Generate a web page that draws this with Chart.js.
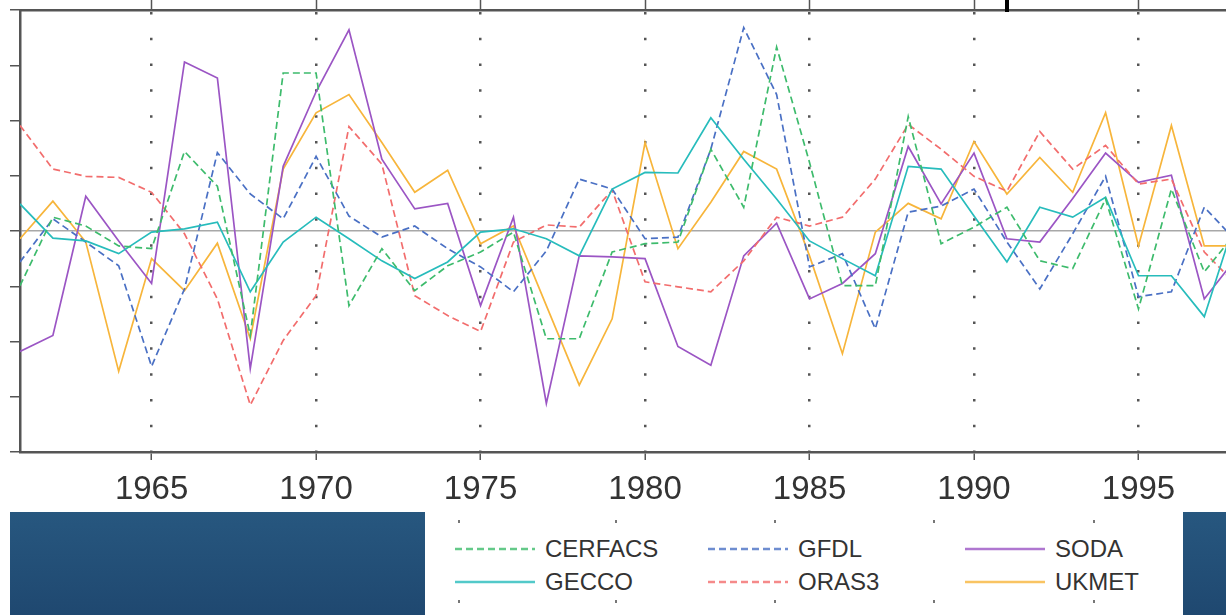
<!DOCTYPE html>
<html>
<head>
<meta charset="utf-8">
<script src="https://cdn.jsdelivr.net/npm/chart.js@4.4.0/dist/chart.umd.min.js"></script>
<style>
    html, body { margin: 0; padding: 0; background: #fff; overflow: hidden; }
    body { width: 1226px; height: 615px; position: relative; font-family: "Liberation Sans", Arial, sans-serif; }
    #wrap { position: absolute; left: 0; top: 0; width: 1226px; height: 512px; }
    .block { position: absolute; background: linear-gradient(#27577f, #1f4870); }
    .mark { position: absolute; left: 1005px; top: 0; width: 4px; height: 12px; background: #000; }
    .leg { position: absolute; height: 30px; display: flex; align-items: center; font-size: 24px; color: #333; }
    .leg svg { margin-right: 10px; }
    .dot { position: absolute; width: 2px; height: 3px; background: #777; }
</style>
</head>
<body>
<div id="wrap"><canvas id="myChart" width="1226" height="512"></canvas></div>
<div class="block" style="left:10px; top:512px; width:415px; height:103px;"></div>
<div class="block" style="left:1183px; top:512px; width:43px; height:103px;"></div>
<div class="mark"></div>
<div id="legend"></div>

<script>
const years = [1961, 1962, 1963, 1964, 1965, 1966, 1967, 1968, 1969, 1970,
    1971, 1972, 1973, 1974, 1975, 1976, 1977, 1978, 1979, 1980,
    1981, 1982, 1983, 1984, 1985, 1986, 1987, 1988, 1989, 1990,
    1991, 1992, 1993, 1994, 1995, 1996, 1997, 1998];

const xTicks = [1965, 1970, 1975, 1980, 1985, 1990, 1995];

const cerfacs = [-0.99, 0.25, 0.09, -0.27, -0.32, 1.44, 0.81, -1.89, 2.86, 2.86,
    -1.35, -0.32, -1.08, -0.63, -0.38, -0.02, -1.95, -1.95, -0.38, -0.23,
    -0.20, 1.48, 0.43, 3.33, 1.24, -0.99, -0.99, 2.07, -0.23, 0.07,
    0.43, -0.54, -0.68, 0.58, -1.41, 0.76, -0.74, 0.00];

const gecco = [0.49, -0.13, -0.18, -0.41, -0.02, 0.04, 0.16, -1.10, -0.20, 0.25,
    -0.14, -0.54, -0.86, -0.56, -0.02, 0.04, -0.14, -0.45, 0.76, 1.06,
    1.05, 2.05, 1.30, 0.58, -0.18, -0.50, -0.81, 1.17, 1.12, 0.27,
    -0.56, 0.43, 0.25, 0.61, -0.81, -0.81, -1.55, 0.31];

const gfdl = [-0.56, 0.22, -0.20, -0.63, -2.45, -1.05, 1.42, 0.67, 0.22, 1.35,
    0.27, -0.11, 0.09, -0.32, -0.65, -1.10, -0.36, 0.94, 0.76, -0.14,
    -0.11, 1.48, 3.68, 2.47, -0.65, -0.41, -1.77, 0.34, 0.45, 0.76,
    -0.20, -1.05, -0.05, 0.99, -1.19, -1.10, 0.43, -0.20];

const oras3 = [1.91, 1.12, 0.99, 0.97, 0.70, -0.05, -1.23, -3.15, -1.98, -1.17,
    1.89, 1.21, -1.17, -1.53, -1.82, -0.20, 0.11, 0.07, 0.74, -0.92,
    -1.01, -1.10, -0.54, 0.25, 0.09, 0.25, 0.94, 1.93, 1.48, 0.99,
    0.72, 1.80, 1.12, 1.55, 0.85, 0.94, -0.38, -0.99];

const soda = [-2.18, -1.89, 0.63, -0.18, -0.95, 3.06, 2.77, -2.49, 1.17, 2.52,
    3.64, 1.30, 0.40, 0.50, -1.35, 0.25, -3.12, -0.45, -0.47, -0.50,
    -2.09, -2.43, -0.45, 0.14, -1.23, -0.95, -0.41, 1.53, 0.49, 1.41,
    -0.14, -0.20, 0.59, 1.41, 0.88, 1.01, -1.23, -0.47];

const ukmet = [-0.14, 0.54, -0.20, -2.54, -0.50, -1.08, -0.22, -1.95, 1.12, 2.14,
    2.47, 1.60, 0.70, 1.10, -0.23, 0.09, -1.35, -2.79, -1.59, 1.60,
    -0.32, 0.52, 1.44, 1.12, -0.45, -2.22, -0.02, 0.50, 0.22, 1.62,
    0.67, 1.33, 0.70, 2.14, -0.27, 1.91, -0.27, -0.27];

// series look
const series = [
    { label: "CERFACS", values: cerfacs, color: "#3dbb6c", dash: [7, 4] },
    { label: "GECCO", values: gecco, color: "#27bcbc", dash: [] },
    { label: "GFDL", values: gfdl, color: "#4a70c4", dash: [7, 4] },
    { label: "ORAS3", values: oras3, color: "#f26d6d", dash: [7, 4] },
    { label: "SODA", values: soda, color: "#9b55c4", dash: [] },
    { label: "UKMET", values: ukmet, color: "#f7b53b", dash: [] },
];

const toPoints = vals => years.map((yr, i) => ({ x: yr, y: vals[i] }));
const setTicks = scale => { scale.ticks = xTicks.map(v => ({ value: v })); };

const ctx = document.getElementById('myChart').getContext('2d');
const myChart = new Chart(ctx, {
    type: 'line',
    data: {
        datasets: series.map(s => ({
            label: s.label,
            data: toPoints(s.values),
            borderColor: s.color,
            borderDash: s.dash,
            borderWidth: 1.7,
            pointRadius: 0,
            tension: 0,
            clip: 0
        }))
    },
    options: {
        responsive: false,
        animation: false,
        devicePixelRatio: 1,
        layout: { padding: 0 },
        plugins: {
            legend: { display: false },
            tooltip: { enabled: false }
        },
        scales: {
            x: {
                type: 'linear',
                position: 'bottom',
                min: 1961,
                max: 1997.66,
                afterBuildTicks: setTicks,
                afterFit: scale => { scale.height = 60; },
                grid: {
                    color: '#555',
                    lineWidth: 2.5,
                    tickLength: 8,
                    tickWidth: 1.5,
                    tickColor: '#555',
                    tickBorderDash: [],
                    tickBorderDashOffset: 0
                },
                border: { display: true, color: '#555', width: 2.5, dash: [2.5, 23.3], dashOffset: 23.85 },
                ticks: {
                    color: '#333',
                    padding: 10,
                    maxRotation: 0,
                    font: { family: '"Liberation Sans", Arial, sans-serif', size: 33 },
                    callback: v => String(v)
                }
            },
            xTop: {
                type: 'linear',
                position: 'top',
                min: 1961,
                max: 1997.66,
                afterBuildTicks: setTicks,
                afterFit: scale => { scale.height = 10; },
                grid: { drawOnChartArea: false, tickLength: 10, tickWidth: 1.5, tickColor: '#555' },
                border: { display: true, color: '#555', width: 2.5 },
                ticks: { display: false }
            },
            y: {
                min: -4,
                max: 4,
                afterFit: scale => { scale.width = 20; },
                grid: {
                    color: c => (c.tick && c.tick.value === 0) ? '#a8a8a8' : 'rgba(0,0,0,0)',
                    lineWidth: 1.5,
                    tickLength: 10,
                    tickWidth: 1.5,
                    tickColor: '#555'
                },
                border: { display: true, color: '#555', width: 2.5 },
                ticks: { display: false, stepSize: 1 }
            }
        }
    }
});

// legend below the plot
const legend = document.getElementById('legend');
const legendPos = [
    { x: 455, y: 534 }, { x: 455, y: 567 },
    { x: 708, y: 534 }, { x: 708, y: 567 },
    { x: 965, y: 534 }, { x: 965, y: 567 },
];
series.forEach((s, i) => {
    const item = document.createElement('div');
    item.className = 'leg';
    item.style.left = legendPos[i].x + 'px';
    item.style.top = legendPos[i].y + 'px';
    item.innerHTML = `
        <svg width="80" height="6"><line x1="0" y1="3" x2="80" y2="3" stroke="${s.color}" stroke-opacity="0.8"
            stroke-width="2.5" stroke-dasharray="${s.dash.join(' ')}"/></svg>
        <span>${s.label}</span>
    `;
    legend.appendChild(item);
});

// little dotted marks in the legend strip
[458, 615, 774, 933, 1093].forEach(x => {
    [520, 600].forEach(y => {
        const d = document.createElement('div');
        d.className = 'dot';
        d.style.left = x + 'px';
        d.style.top = y + 'px';
        legend.appendChild(d);
    });
});
</script>
</body>
</html>
